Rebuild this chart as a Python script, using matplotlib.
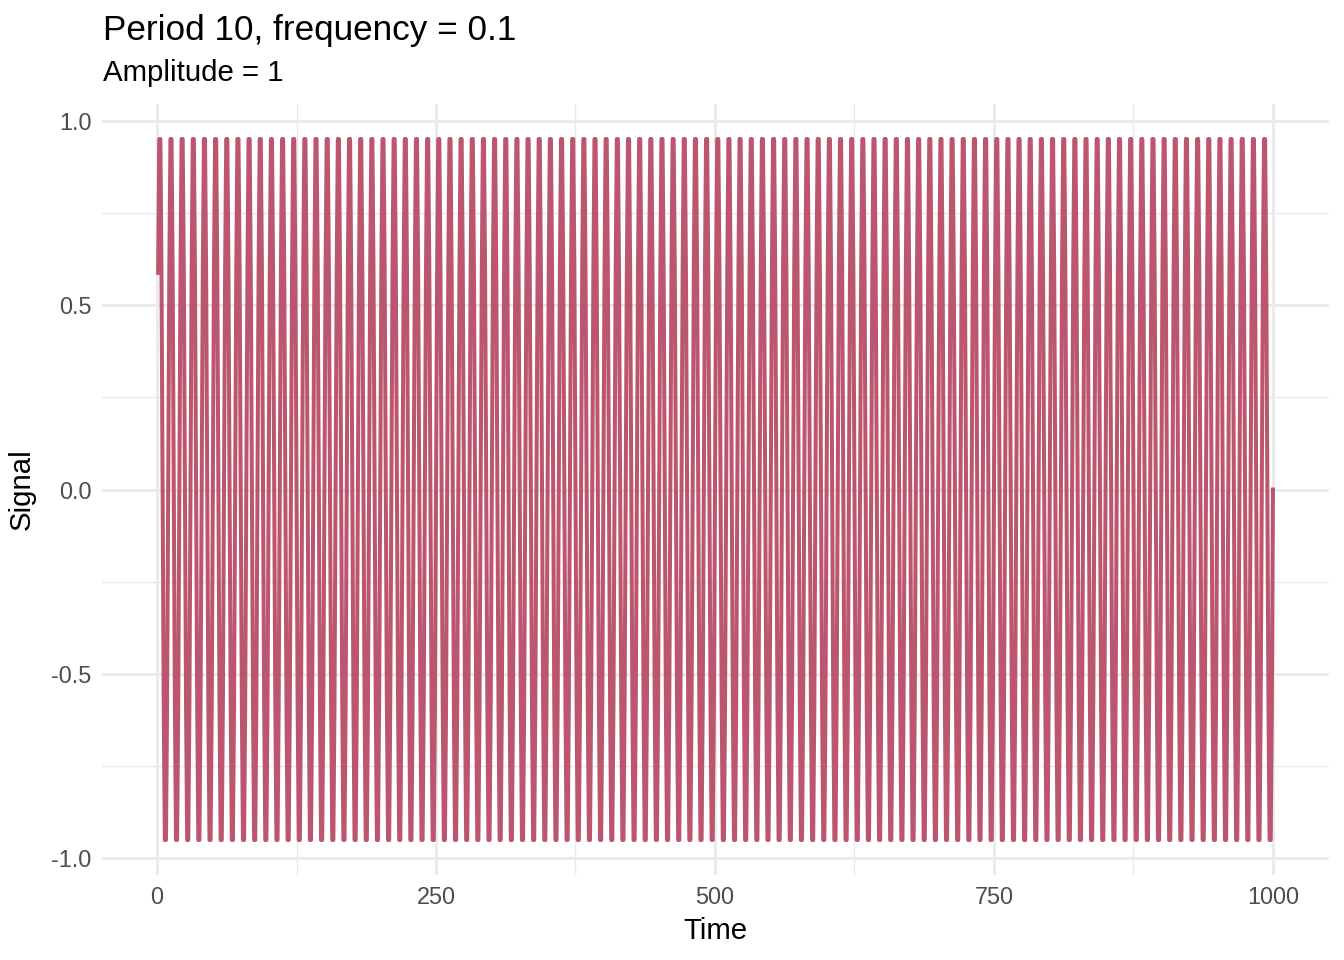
import numpy as np
import matplotlib
matplotlib.use("Agg")
import matplotlib.pyplot as plt
from matplotlib.ticker import FixedLocator

plt.rcParams['font.family'] = ['Liberation Sans', 'DejaVu Sans']

# one period of the signal, repeated over the series
cycle_values = [0.588, 0.951, 0.951, 0.588, 0.0, -0.588, -0.951, -0.951, -0.588, 0.0]
n_cycles = 100
time = np.arange(1, len(cycle_values) * n_cycles + 1)
signal = np.tile(cycle_values, n_cycles)

x_major = [0, 250, 500, 750, 1000]
x_minor = [125, 375, 625, 875]
y_major = [-1.0, -0.5, 0.0, 0.5, 1.0]
y_minor = [-0.75, -0.25, 0.25, 0.75]

line_col = '#B84D66'
grid_col = '#EBEBEB'

fig = plt.figure(figsize=(7, 5), dpi=192)
ax = fig.add_axes([0.0762, 0.0885, 0.9124, 0.8032])

ax.plot(time, signal, color=line_col, linewidth=1.5, alpha=0.95, zorder=3)

# ggplot-like 5% expansion
xr = time.max() - time.min()
yr = signal.max() - signal.min()
ax.set_xlim(time.min() - 0.05 * xr, time.max() + 0.05 * xr)
ax.set_ylim(signal.min() - 0.05 * yr, signal.max() + 0.05 * yr)

ax.xaxis.set_major_locator(FixedLocator(x_major))
ax.xaxis.set_minor_locator(FixedLocator(x_minor))
ax.yaxis.set_major_locator(FixedLocator(y_major))
ax.yaxis.set_minor_locator(FixedLocator(y_minor))
ax.set_xticklabels([str(v) for v in x_major])
ax.set_yticklabels([f'{v:.1f}' for v in y_major])

ax.grid(True, which='major', color=grid_col, linewidth=1.1, zorder=0)
ax.grid(True, which='minor', color=grid_col, linewidth=0.55, zorder=0)
ax.set_axisbelow(True)
for s in ax.spines.values():
    s.set_visible(False)
ax.tick_params(which='both', length=0)
ax.tick_params(axis='both', labelsize=8.8, labelcolor='#4D4D4D', pad=4)

ax.set_xlabel('Time', fontsize=11, labelpad=3)
ax.set_ylabel('Signal', fontsize=11, labelpad=6)

fig.text(0.0766, 0.958, 'Period 10, frequency = 0.1', fontsize=13.2,
         ha='left', va='baseline')
fig.text(0.0766, 0.916, 'Amplitude = 1', fontsize=11,
         ha='left', va='baseline')

fig.savefig('out.png', dpi=192)
